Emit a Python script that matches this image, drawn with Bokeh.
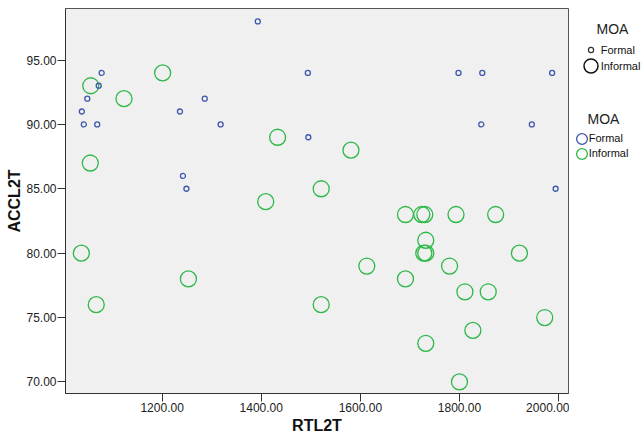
from bokeh.plotting import figure
from bokeh.layouts import row
from bokeh.models import (ColumnDataSource, Range1d, FixedTicker, NumeralTickFormatter,
                          Legend, LegendItem, Label)
from bokeh.embed import file_html
from bokeh.resources import INLINE

# ---- data ----
formal_rtl = [1393, 1078, 1072, 1049, 1038, 1042, 1069, 1236, 1286, 1318,
              1242, 1249, 1494, 1495, 1798, 1846, 1987, 1844, 1946, 1994]
formal_acc = [98, 94, 93, 92, 91, 90, 90, 91, 92, 90,
              86, 85, 94, 89, 94, 94, 94, 90, 90, 85]

informal_rtl = [1056, 1123, 1201, 1055, 1433, 1409, 1521, 1581, 1037, 1067,
                1253, 1521, 1691, 1724, 1730, 1793, 1873, 1732, 1728, 1732,
                1921, 1613, 1780, 1691, 1811, 1858, 1972, 1827, 1732, 1800]
informal_acc = [93, 92, 94, 87, 89, 84, 85, 88, 80, 76,
                78, 76, 83, 83, 83, 83, 83, 81, 80, 80,
                80, 79, 79, 78, 77, 77, 75, 74, 73, 70]

x_ticks = [1200, 1400, 1600, 1800, 2000]
y_ticks = [70, 75, 80, 85, 90, 95]
groups = ["Formal", "Informal"]
legend_title = "MOA"
x_label = "RTL2T"
y_label = "ACCL2T"

FONT = "Liberation Sans"
BLUE = "#3E58AC"
GREEN = "#2EB848"

p = figure(width=569, height=436, output_backend="svg", toolbar_location=None,
           x_range=Range1d(1005, 2020), y_range=Range1d(69.1, 99.0),
           min_border_left=65, min_border_right=1, min_border_top=8, min_border_bottom=42)

p.background_fill_color = "#F0F0F0"
p.border_fill_color = "white"
p.outline_line_color = "#555555"
p.outline_line_width = 1
p.grid.visible = False

for ax in (p.xaxis[0], p.yaxis[0]):
    ax.major_label_text_font = FONT
    ax.major_label_text_font_size = "12px"
    ax.major_label_text_color = "#222222"
    ax.axis_label_text_font = FONT
    ax.axis_label_text_font_size = "16px"
    ax.axis_label_text_font_style = "bold"
    ax.axis_label_text_color = "#111111"
    ax.axis_line_color = "#333333"
    ax.major_tick_line_color = "#333333"
    ax.major_tick_in = 0
    ax.major_tick_out = 8
    ax.minor_tick_line_color = None
    ax.formatter = NumeralTickFormatter(format="0.00")
    ax.major_label_standoff = 1

p.xaxis[0].ticker = FixedTicker(ticks=x_ticks)
p.yaxis[0].ticker = FixedTicker(ticks=y_ticks)
p.xaxis[0].axis_label = x_label
p.yaxis[0].axis_label = y_label
p.xaxis[0].axis_label_standoff = 2
p.yaxis[0].axis_label_standoff = 0

src_f = ColumnDataSource(dict(x=formal_rtl, y=formal_acc))
src_i = ColumnDataSource(dict(x=informal_rtl, y=informal_acc))

p.scatter("x", "y", source=src_i, marker="circle", size=16,
          fill_color=None, line_color=GREEN, line_width=1.3)
p.scatter("x", "y", source=src_f, marker="circle", size=5,
          fill_color=None, line_color=BLUE, line_width=1.3)

# ---- legend panel (separate, axis-less figure to the right; its frame is
#      aligned with the main frame, so legend offsets are from that frame) ----
q = figure(width=74, height=436, output_backend="svg", toolbar_location=None,
           x_range=Range1d(0, 1), y_range=Range1d(0, 1),
           x_axis_type=None, y_axis_type=None,
           min_border_left=0, min_border_right=0, min_border_top=0, min_border_bottom=0)
q.outline_line_color = None
q.background_fill_color = "white"
q.border_fill_color = "white"

# legend proxies: same data, far outside this panel's 0..1 ranges (never visible)
r_small = q.scatter("x", "y", source=src_f, marker="circle",
                    fill_color=None, line_color="#333333", line_width=1.2)
r_big = q.scatter("x", "y", source=src_i, marker="circle",
                  fill_color=None, line_color="#111111", line_width=1.5)
r_blue = q.scatter("x", "y", source=src_f, marker="circle",
                   fill_color=None, line_color=BLUE, line_width=1.3)
r_green = q.scatter("x", "y", source=src_i, marker="circle",
                    fill_color=None, line_color=GREEN, line_width=1.3)
r_none = q.scatter("x", "y", source=src_f, marker="circle",
                   fill_color=None, line_color=None)

def add_legend(label, renderer, loc, glyph):
    lg = Legend(items=[LegendItem(label=label, renderers=[renderer])], location=loc,
                padding=0, margin=0, spacing=0,
                glyph_width=glyph, glyph_height=glyph, label_height=12,
                label_standoff=0, label_text_font=FONT,
                label_text_font_size="11px", label_text_color="#111111",
                background_fill_alpha=0, border_line_alpha=0)
    q.add_layout(lg, "center")

# marker keys (glyph only)
add_legend(" ", r_small, (15.2, 337), 13)
add_legend(" ", r_big, (3.5, 310), 35)
add_legend(" ", r_blue, (-1.5, 241), 27)
add_legend(" ", r_green, (-1.5, 226.5), 27)
# key texts
add_legend(groups[0], r_none, (30.7, 337.3), 1)
add_legend(groups[1], r_none, (30.7, 321.3), 1)
add_legend(groups[0], r_none, (18.7, 248.7), 1)
add_legend(groups[1], r_none, (18.7, 234), 1)

for lx, ly in ((27, 365), (18, 275)):
    q.add_layout(Label(x=lx, y=ly, x_units="screen", y_units="screen", text=legend_title,
                       text_font=FONT, text_font_size="14px", text_color="#222222",
                       text_baseline="middle"))

layout = row(p, q, spacing=0)
open("out.html", "w").write(file_html(layout, INLINE))
